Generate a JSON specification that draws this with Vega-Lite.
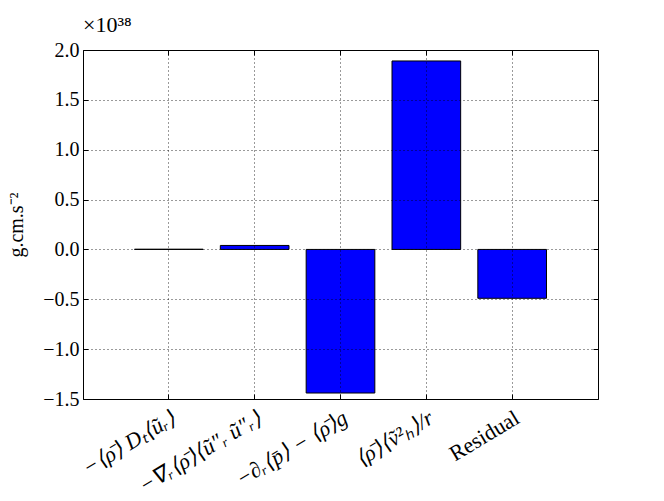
{
  "$schema": "https://vega.github.io/schema/vega-lite/v6.json",
  "autosize": "none",
  "width": 515,
  "height": 349,
  "padding": {"left": 83, "top": 50, "right": 66, "bottom": 102},
  "background": "white",
  "title": {"text": "×10³⁸", "anchor": "start", "frame": "group", "font": "Liberation Serif", "fontSize": 22, "fontWeight": "normal", "color": "#000", "offset": 3, "dx": 0},
  "data": {"values": [
    {"term": "−⟨ρ̄⟩ Dₜ⟨ũᵣ⟩", "value": 0.002},
    {"term": "−∇ᵣ⟨ρ̄⟩⟨ũ″ᵣ ũ″ᵣ⟩", "value": 0.04},
    {"term": "−∂ᵣ⟨p̄⟩ − ⟨ρ̄⟩g", "value": -1.44},
    {"term": "⟨ρ̄⟩⟨ṽ²ₕ⟩/r", "value": 1.89},
    {"term": "Residual", "value": -0.49}
  ]},
  "layer": [
    {
      "mark": {"type": "bar", "fill": "#0000ff", "stroke": "#000", "strokeWidth": 1},
      "encoding": {
        "x": {"field": "term", "type": "nominal", "sort": null,
          "scale": {"type": "band", "paddingInner": 0.2, "paddingOuter": 0.6},
          "axis": {"orient": "bottom", "title": null, "bandPosition": 0.5, "grid": true, "gridColor": "#000", "gridDash": [1, 3], "gridWidth": 0.8,
            "domain": false, "tickColor": "#000", "tickSize": -5, "tickWidth": 1, "labelPadding": 13,
            "labelAngle": -31, "labelAlign": "right", "labelBaseline": "top",
            "labelFont": "Liberation Serif", "labelFontSize": 22, "labelColor": "#000",
            "labelFontStyle": {"condition": {"test": "datum.value === 'Residual'", "value": "normal"}, "value": "italic"},
            "zindex": 1}},
        "y": {"field": "value", "type": "quantitative",
          "scale": {"domain": [-1.5, 2.0], "nice": false, "zero": false},
          "axis": {"orient": "left", "title": "g.cm.s⁻²", "values": [-1.5, -1.0, -0.5, 0, 0.5, 1.0, 1.5, 2.0], "format": ".1f",
            "grid": true, "gridColor": "#000", "gridDash": [1, 3], "gridWidth": 0.8,
            "domain": false, "tickColor": "#000", "tickSize": -5, "tickWidth": 1, "labelPadding": 9,
            "labelFont": "Liberation Serif", "labelFontSize": 20, "labelColor": "#000",
            "titleFont": "Liberation Serif", "titleFontSize": 20, "titleFontWeight": "normal", "titleColor": "#000", "titlePadding": 16,
            "zindex": 1}}
      }
    },
    {
      "mark": {"type": "bar", "opacity": 0},
      "encoding": {
        "x": {"field": "term", "type": "nominal", "sort": null,
          "axis": {"orient": "top", "title": null, "bandPosition": 0.5, "labels": false, "grid": false, "domain": false, "tickColor": "#000", "tickSize": -5, "tickWidth": 1, "zindex": 1}},
        "y": {"field": "value", "type": "quantitative",
          "axis": {"orient": "right", "title": null, "values": [-1.5, -1.0, -0.5, 0, 0.5, 1.0, 1.5, 2.0], "labels": false, "grid": false, "domain": false, "tickColor": "#000", "tickSize": -5, "tickWidth": 1, "zindex": 1}}
      }
    }
  ],
  "resolve": {"axis": {"x": "independent", "y": "independent"}},
  "config": {"view": {"stroke": "#000", "strokeWidth": 1}}
}
